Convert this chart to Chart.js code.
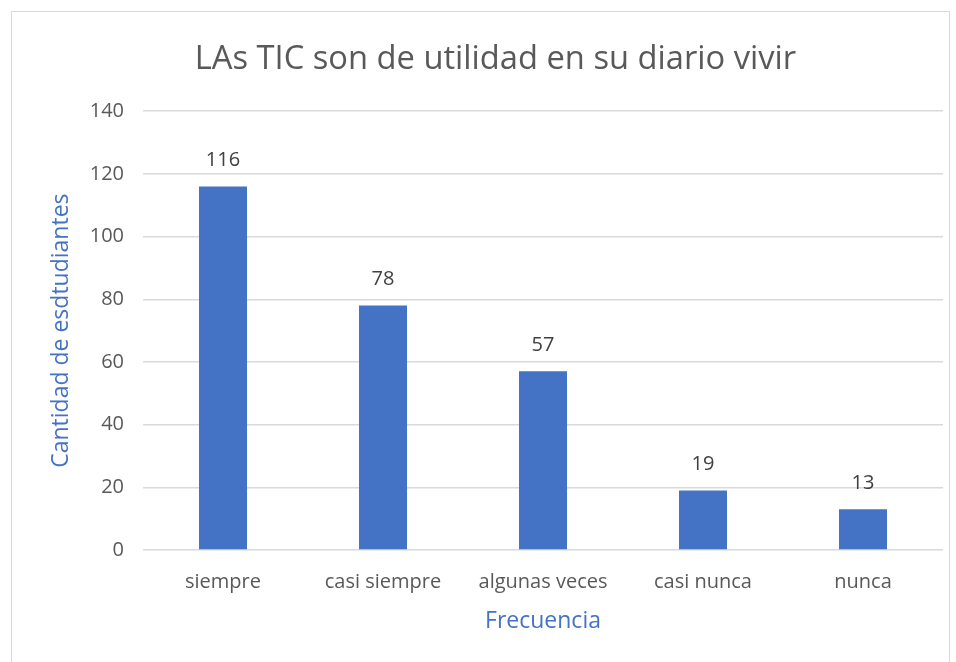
<!DOCTYPE html>
<html>
<head>
<meta charset="utf-8">
<script src="https://cdn.jsdelivr.net/npm/chart.js@4.4.1/dist/chart.umd.min.js"></script>
<style>
  html, body { margin: 0; padding: 0; background: #fff; }
  #wrap { position: relative; width: 956px; height: 662px; }
  #frame { position: absolute; left: 11px; top: 11px; width: 939px; height: 660px; border: 1px solid #d9d9d9; box-sizing: border-box; }
  canvas { position: absolute; left: 0; top: 0; }
</style>
</head>
<body>
<div id="wrap">
  <div id="frame"></div>
  <canvas id="chart" width="956" height="662"></canvas>
</div>
<script>
const categories = ["siempre", "casi siempre", "algunas veces", "casi nunca", "nunca"];
const estudiantes = [116, 78, 57, 19, 13];
const yTicks = [0, 20, 40, 60, 80, 100, 120, 140];

const FONT = "'Open Sans', 'Liberation Sans', sans-serif";

// value labels above each bar
const barLabels = {
  id: "barLabels",
  afterDatasetsDraw(chart) {
    const ctx = chart.ctx;
    const meta = chart.getDatasetMeta(0);
    ctx.save();
    ctx.font = "20px " + FONT;
    ctx.fillStyle = "#404040";
    ctx.textAlign = "center";
    ctx.textBaseline = "middle";
    meta.data.forEach((bar, i) => {
      ctx.fillText(String(estudiantes[i]), bar.x, bar.y - 26);
    });
    ctx.restore();
  }
};

new Chart(document.getElementById("chart"), {
  type: "bar",
  data: {
    labels: categories,
    datasets: [{
      data: estudiantes,
      backgroundColor: "#4472C4",
      categoryPercentage: 1,
      barPercentage: 0.3
    }]
  },
  options: {
    responsive: false,
    animation: false,
    layout: { padding: { left: 48, right: 13, top: 0, bottom: 0 } },
    plugins: {
      legend: { display: false },
      tooltip: { enabled: false },
      title: {
        display: true,
        text: "LAs TIC son de utilidad en su diario vivir",
        color: "#595959",
        font: { family: FONT, size: 32.7, weight: "normal" },
        padding: { top: 40, bottom: 32 }
      }
    },
    scales: {
      x: {
        grid: { display: false, drawTicks: false },
        border: { display: false },
        ticks: { color: "#595959", font: { family: FONT, size: 20 }, padding: 20 },
        title: {
          display: true,
          text: "Frecuencia",
          color: "#4472C4",
          font: { family: FONT, size: 23 },
          padding: { top: 0, bottom: 27 }
        },
        afterFit(scale) { scale.height = 112; }
      },
      y: {
        min: 0,
        max: 140,
        afterBuildTicks(scale) { scale.ticks = yTicks.map(v => ({ value: v })); },
        grid: { color: "#d9d9d9", lineWidth: 1.5, drawTicks: false },
        border: { display: false },
        ticks: { color: "#595959", font: { family: FONT, size: 20 }, padding: 19 },
        title: {
          display: true,
          text: "Cantidad de esdtudiantes",
          color: "#4472C4",
          font: { family: FONT, size: 23 },
          padding: { top: 0, bottom: 0 }
        },
        afterFit(scale) { scale.width = 95; }
      }
    }
  },
  plugins: [barLabels]
});
</script>
</body>
</html>
